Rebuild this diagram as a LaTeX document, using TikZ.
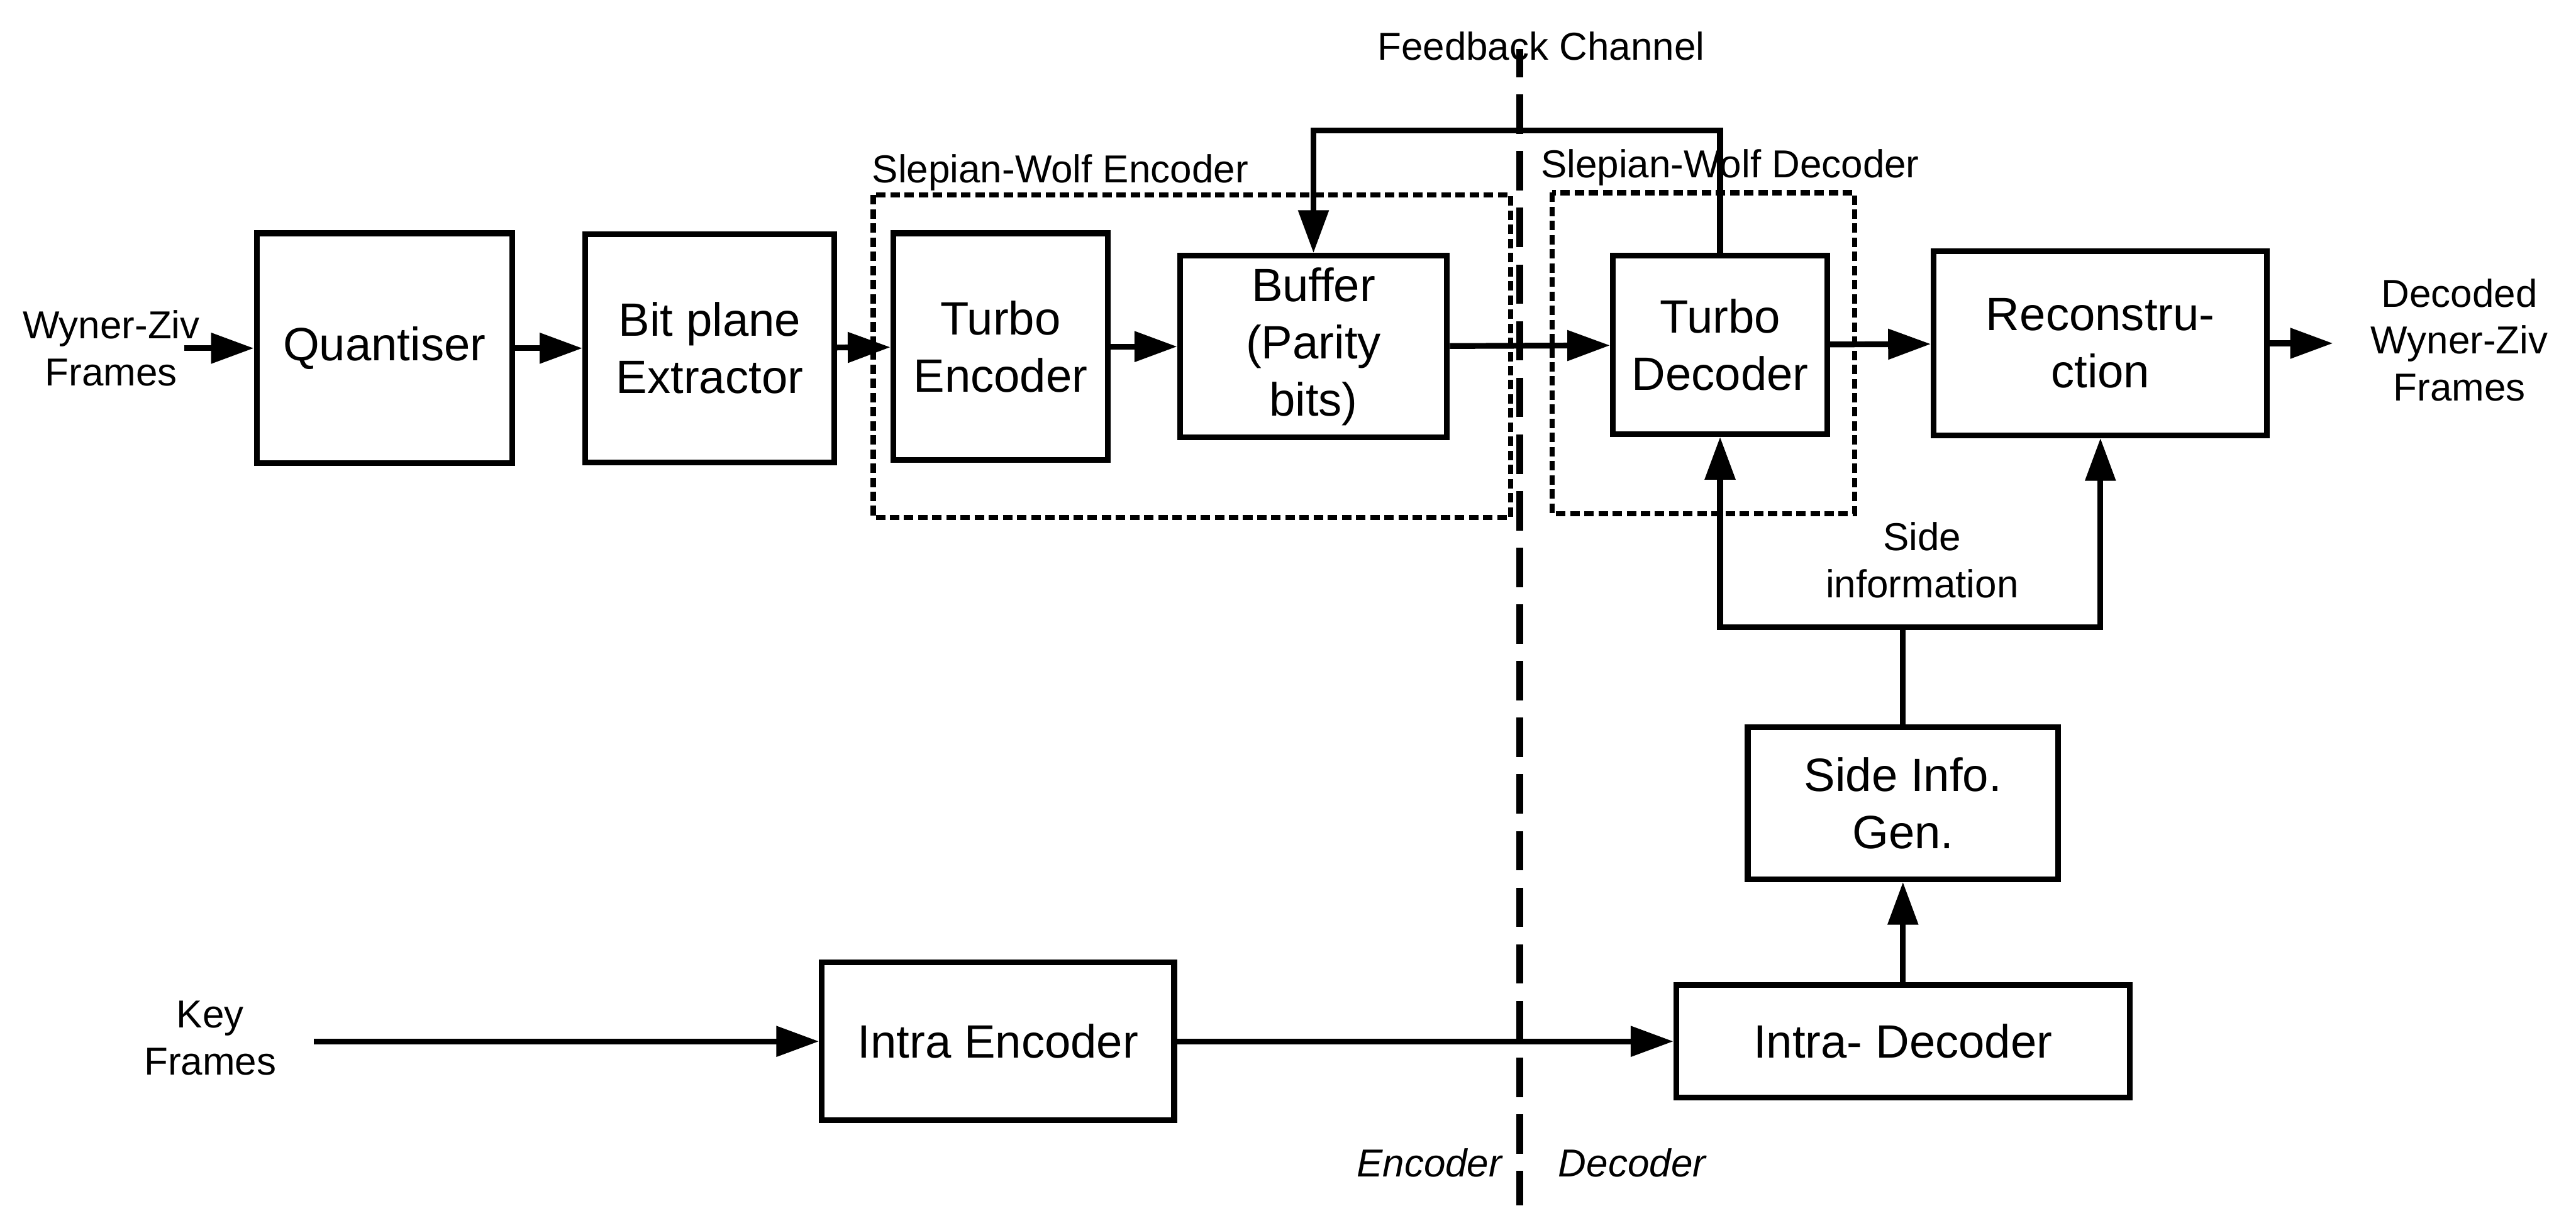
\documentclass[tikz,border=0pt]{standalone}
\usepackage{fontspec}
\setmainfont{Liberation Sans}
\usepackage{tikz}
\usetikzlibrary{arrows.meta}
\tikzset{
    >={Triangle[length=5.2mm,width=3.6mm]},
    box line/.style = {line width=2pt},
    big font/.style = {font=\fontsize{16.2}{19.8}\selectfont},
    small font/.style = {font=\fontsize{13.5}{16.2}\selectfont},
    block node/.style={shape=rectangle,draw,box line,align=center,inner sep=0pt,big font},
    text node/.style={align=center,inner sep=0pt,small font},
    dotted frame/.style={line width=1.8pt,dash pattern=on 1.15mm off 0.57mm},
    split line/.style={line width=2.4pt,dash pattern=on 4.8mm off 2.1mm,dash phase=1.4mm}
}
\begin{document}
\begin{tikzpicture}[x=0.02cm,y=-0.02cm]
    \useasboundingbox (0,0) rectangle (1568,734);
    % top row
    \node(quant)[block node,minimum width=3.11cm,minimum height=2.8cm] at (234,212) {Quantiser};
    \node(bitplane)[block node,minimum width=3.03cm,minimum height=2.78cm] at (432,212) {Bit plane\\Extractor};
    \node(turboenc)[block node,minimum width=2.61cm,minimum height=2.76cm] at (609,211) {Turbo\\Encoder};
    \node(buffer)[block node,minimum width=3.25cm,minimum height=2.21cm] at (799.5,211) {Buffer\\(Parity\\bits)};
    \node(turbodec)[block node,minimum width=2.61cm,minimum height=2.17cm] at (1047,210) {Turbo\\Decoder};
    \node(recon)[block node,minimum width=4.06cm,minimum height=2.24cm] at (1278.5,209) {Reconstru-\\ction};
    \node(sigen)[block node,minimum width=3.78cm,minimum height=1.85cm] at (1158.3,489) {Side Info.\\Gen.};
    \node(intraenc)[block node,minimum width=4.29cm,minimum height=1.92cm] at (607.5,634) {Intra Encoder};
    \node(intradec)[block node,minimum width=5.52cm,minimum height=1.37cm] at (1158.3,634) {Intra- Decoder};
    % texts
    \node(wz)[text node] at (67.7,212) {Wyner-Ziv\\Frames};
    \node(decwz)[text node] at (1497,207) {Decoded\\Wyner-Ziv\\Frames};
    \node(key)[text node] at (128,632) {Key\\Frames};
    \node(sideinfo)[text node] at (1170,341) {Side\\information};
    \node(feedback)[text node] at (938,28) {Feedback Channel};
    \node(swenclab)[text node,anchor=west] at (530.5,105) {Slepian-Wolf Encoder};
    \node(swdeclab)[text node,anchor=west] at (937.6,102) {Slepian-Wolf Decoder};
    \node(enclab)[text node,font=\fontsize{13.5}{16.2}\selectfont\itshape] at (870,708) {Encoder};
    \node(declab)[text node,font=\fontsize{13.5}{16.2}\selectfont\itshape] at (993.4,708) {Decoder};
    \coordinate(wzin) at (112,212);
    \coordinate(wzout) at (1420,209);
    \coordinate(keyin) at (191,634);
    \coordinate(fb) at (925,79.5);
    \coordinate(sitop) at (1158.3,382);
    \coordinate(splittop) at (925,30);
    \coordinate(splitbot) at (925,734);
    % frames and split
    \draw[dotted frame] (531.5,118.8) rectangle (919.5,315);
    \draw[dotted frame] (944.8,117.3) rectangle (1128.8,312.7);
    \draw[split line] (splittop) -- (splitbot);
    % connectors
    \draw[->,box line] (wzin) -- (quant.west);
    \draw[->,box line] (quant) -- (bitplane);
    \draw[->,box line] (bitplane) -- (turboenc);
    \draw[->,box line] (turboenc) -- (buffer);
    \draw[->,box line] (buffer) -- (turbodec);
    \draw[->,box line] (turbodec) -- (recon);
    \draw[->,box line] (recon) -- (wzout);
    \draw[->,box line] (turbodec.north) |- (fb) -| (buffer.north);
    \draw[box line] (sigen.north) -- (sitop);
    \draw[->,box line] (sitop) -| (turbodec.south);
    \draw[->,box line] (sitop) -| (recon.south);
    \draw[->,box line] (intradec.north) -- (sigen.south);
    \draw[->,box line] (keyin) -- (intraenc.west);
    \draw[->,box line] (intraenc) -- (intradec);
\end{tikzpicture}
\end{document}
